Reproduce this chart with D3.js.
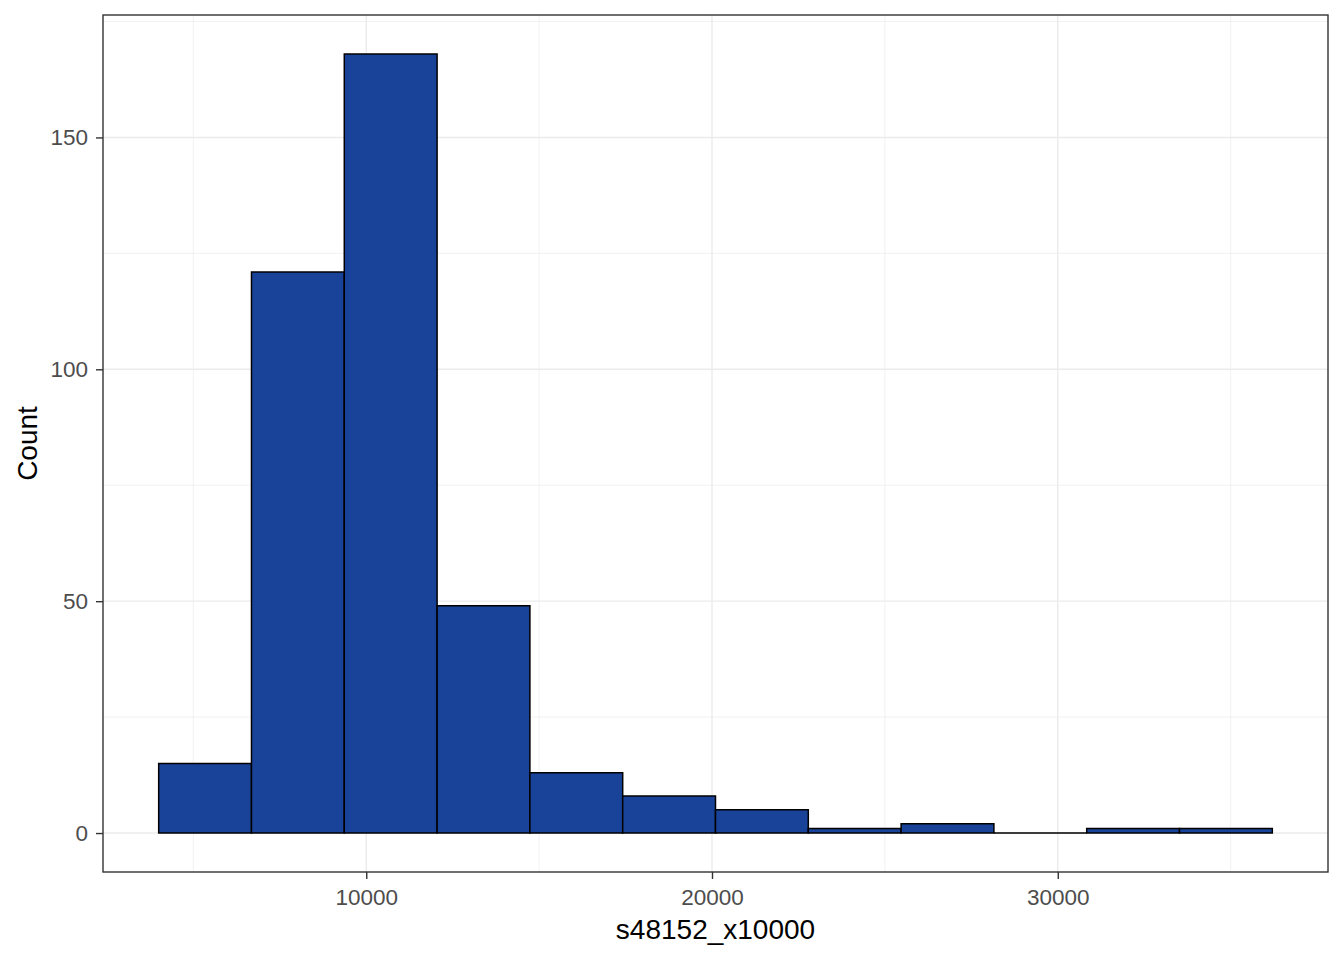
<!DOCTYPE html>
<html><head><meta charset="utf-8">
<script src="https://cdn.jsdelivr.net/npm/d3@7"></script>
<style>body{margin:0;background:#fff}svg{display:block}</style>
</head><body>
<script>
const binStart = 3997;
const binWidth = 2684;
const counts = [15, 121, 168, 49, 13, 8, 5, 1, 2, 0, 1, 1];
const xTicks = [10000, 20000, 30000];
const xMinor = [5000, 15000, 25000, 35000];
const yTicks = [0, 50, 100, 150];
const yMinor = [25, 75, 125, 175];
const xTitle = "s48152_x10000";
const yTitle = "Count";

const W = 1344, H = 960;
const pl = 103, pr = 1328, pt = 15, pb = 872;
const bins = counts.map((c, i) => ({x0: binStart + i * binWidth, x1: binStart + (i + 1) * binWidth, n: c}));
const xmin = bins[0].x0, xmax = bins[bins.length - 1].x1;
const xpad = (xmax - xmin) * 0.05;
const ymax = d3.max(counts), ypad = ymax * 0.05;
const x = d3.scaleLinear().domain([xmin - xpad, xmax + xpad]).range([pl, pr]);
const y = d3.scaleLinear().domain([-ypad, ymax + ypad]).range([pb, pt]);

const svg = d3.select("body").append("svg").attr("width", W).attr("height", H);
svg.append("rect").attr("width", W).attr("height", H).attr("fill", "#fff");
const g = svg.append("g");
// minor grid
g.selectAll(".xm").data(xMinor).join("line").attr("x1", d => x(d)).attr("x2", d => x(d)).attr("y1", pt).attr("y2", pb).attr("stroke", "#EBEBEB").attr("stroke-width", 0.7);
g.selectAll(".ym").data(yMinor).join("line").attr("y1", d => y(d)).attr("y2", d => y(d)).attr("x1", pl).attr("x2", pr).attr("stroke", "#EBEBEB").attr("stroke-width", 0.7);
// major grid
g.selectAll(".xM").data(xTicks).join("line").attr("x1", d => x(d)).attr("x2", d => x(d)).attr("y1", pt).attr("y2", pb).attr("stroke", "#EBEBEB").attr("stroke-width", 1.4);
g.selectAll(".yM").data(yTicks).join("line").attr("y1", d => y(d)).attr("y2", d => y(d)).attr("x1", pl).attr("x2", pr).attr("stroke", "#EBEBEB").attr("stroke-width", 1.4);
// bars (paths so zero-height bins still show their outline)
g.selectAll(".bar").data(bins).join("path")
  .attr("d", d => {
    const p = d3.path();
    p.rect(x(d.x0), y(d.n), x(d.x1) - x(d.x0), y(0) - y(d.n));
    return p.toString();
  })
  .attr("fill", "#184399").attr("stroke", "#000").attr("stroke-width", 1.5);
// panel border
svg.append("rect").attr("x", pl).attr("y", pt).attr("width", pr - pl).attr("height", pb - pt)
  .attr("fill", "none").attr("stroke", "#333333").attr("stroke-width", 1.4);
// axes
const xa = svg.append("g").attr("transform", `translate(0,${pb})`)
  .call(d3.axisBottom(x).tickValues(xTicks).tickFormat(d3.format("d")).tickSizeOuter(0).tickSize(7).tickPadding(10));
const ya = svg.append("g").attr("transform", `translate(${pl},0)`)
  .call(d3.axisLeft(y).tickValues(yTicks).tickFormat(d3.format("d")).tickSizeOuter(0).tickSize(7).tickPadding(8));
[xa, ya].forEach(a => {
  a.select(".domain").remove();
  a.selectAll(".tick line").attr("stroke", "#333333").attr("stroke-width", 1.4);
  a.selectAll(".tick text").attr("fill", "#4D4D4D").style("font-family", "Liberation Sans, Arial, sans-serif").style("font-size", "22.5px");
});
svg.append("text").attr("x", (pl + pr) / 2).attr("y", 939).attr("text-anchor", "middle")
  .style("font-family", "Liberation Sans, Arial, sans-serif").style("font-size", "28px").attr("fill", "#000").text(xTitle);
svg.append("text").attr("transform", `translate(37,${(pt + pb) / 2}) rotate(-90)`).attr("text-anchor", "middle")
  .style("font-family", "Liberation Sans, Arial, sans-serif").style("font-size", "28px").attr("fill", "#000").text(yTitle);
</script>
</body></html>
